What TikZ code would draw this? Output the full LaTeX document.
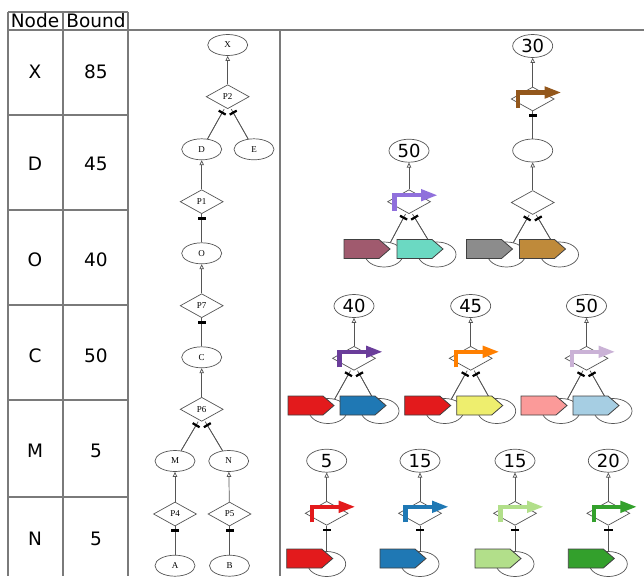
\documentclass[tikz,border=0pt]{standalone}
\usepackage{fontspec}
\setmainfont{DejaVu Sans}
\newfontfamily\treefont{Liberation Serif}
\usetikzlibrary{arrows.meta,shapes.geometric}
\definecolor{cmauve}{HTML}{A05A6E}
\definecolor{cteal}{HTML}{6BD9C2}
\definecolor{cgray}{HTML}{8C8C8C}
\definecolor{cgold}{HTML}{BF8A3A}
\definecolor{cbrown}{HTML}{93571C}
\definecolor{cmpurple}{HTML}{9070DC}
\definecolor{cdpurple}{HTML}{6A3D9A}
\definecolor{corange}{HTML}{FF7F00}
\definecolor{clilac}{HTML}{CAB2D6}
\definecolor{cred}{HTML}{E31A1C}
\definecolor{cblue}{HTML}{1F78B4}
\definecolor{cyellow}{HTML}{EEEE6E}
\definecolor{cpink}{HTML}{FB9A99}
\definecolor{clblue}{HTML}{A6CEE3}
\definecolor{clgreen}{HTML}{B2DF8A}
\definecolor{cgreen}{HTML}{33A02C}
\definecolor{edgec}{HTML}{555555}
\definecolor{tblc}{HTML}{7A7A7A}
\newcommand\prom[2]{\draw[promoter,draw=#2] ([shift={(-14.5,9)}]#1.center) -- ([shift={(-14.5,-6.5)}]#1.center) -- ([shift={(29,-6.5)}]#1.center);}
\newcommand\cds[2]{\draw[cdsline,fill=#2] ([shift={(-40,-15)}]#1.center) -- ++(35,0) -- ++(11,9.5) -- ++(-11,9.5) -- ++(-35,0) -- cycle;}
\begin{document}
\begin{tikzpicture}[x=1pt,y=-1pt,
  tbl/.style={draw=tblc, line width=1.2pt},
  ttxt/.style={font=\fontsize{18.5}{20}\selectfont, inner sep=0pt},
  tel/.style={ellipse, draw=edgec, line width=0.7pt, minimum width=40pt, minimum height=21pt, inner sep=0pt, fill=white, font=\treefont\fontsize{9}{9}\selectfont},
  tdi/.style={diamond, draw=edgec, line width=0.7pt, minimum width=43pt, minimum height=24pt, inner sep=0pt, fill=white, font=\treefont\fontsize{9}{9}\selectfont},
  numel/.style={ellipse, draw=edgec, line width=0.7pt, minimum width=40pt, minimum height=23pt, inner sep=0pt, fill=white, font=\fontsize{18}{18}\selectfont},
  gdi/.style={diamond, draw=edgec, line width=0.7pt, minimum width=43pt, minimum height=24pt, inner sep=0pt, fill=white},
  chel/.style={ellipse, draw=edgec, line width=0.7pt, minimum width=38pt, minimum height=25pt, inner sep=0pt},
  up/.style={draw=edgec, line width=0.7pt, -{Triangle[open,length=5pt,width=4.5pt]}},
  tee/.style={draw=edgec, line width=0.7pt, postaction={draw=edgec, -{Rectangle[length=2.2pt,width=8pt,color=black]}, shorten >=3pt}},
  promoter/.style={line width=4.5pt, -{Triangle[length=17pt,width=11pt]}},
  cdsline/.style={draw=black!75, line width=0.8pt, line join=miter}]
\useasboundingbox (0,0) rectangle (644,576);
% table
\foreach \yy in {12,115,210,305,400,497} \draw[tbl] (8,\yy) -- (128,\yy);
\draw[tbl] (8,30) -- (644,30);
\foreach \xx in {8,63,128} \draw[tbl] (\xx,12) -- (\xx,576);
\draw[tbl] (280,30) -- (280,576);
\node[ttxt] (hN) at (35,21) {Node};
\node[ttxt] (hB) at (96,21) {Bound};
\node[ttxt] (rX) at (35,72) {X};   \node[ttxt] (vX) at (96,72) {85};
\node[ttxt] (rD) at (35,164) {D};  \node[ttxt] (vD) at (96,164) {45};
\node[ttxt] (rO) at (35,260) {O};  \node[ttxt] (vO) at (96,260) {40};
\node[ttxt] (rC) at (35,356) {C};  \node[ttxt] (vC) at (96,356) {50};
\node[ttxt] (rM) at (35,451) {M};  \node[ttxt] (vM) at (96,451) {5};
\node[ttxt] (rN) at (35,539) {N};  \node[ttxt] (vN) at (96,539) {5};
% tree
\node[tel] (X) at (227.7,45) {X};
\node[tdi] (P2) at (227.7,96.7) {P2};
\node[tel] (D) at (201.7,149.3) {D};
\node[tel] (E) at (254,149.3) {E};
\node[tdi] (P1) at (201.7,201.7) {P1};
\node[tel] (O) at (201.7,253.3) {O};
\node[tdi] (P7) at (201.7,305.7) {P7};
\node[tel] (C) at (201.7,357.3) {C};
\node[tdi] (P6) at (201.7,409.3) {P6};
\node[tel] (M) at (175,461) {M};
\node[tel] (N) at (228.7,461) {N};
\node[tdi] (P4) at (175,514) {P4};
\node[tdi] (P5) at (229.5,514) {P5};
\node[tel] (A) at (175,565.7) {A};
\node[tel] (B) at (229.5,565.7) {B};
\draw[up] (P2) -- (X);
\draw[tee] (D) -- ([xshift=-3.5pt]P2.south);
\draw[tee] (E) -- ([xshift=3.5pt]P2.south);
\draw[up] (P1) -- (D);
\draw[tee] (O) -- (P1);
\draw[up] (P7) -- (O);
\draw[tee] (C) -- (P7);
\draw[up] (P6) -- (C);
\draw[tee] (M) -- ([xshift=-3.5pt]P6.south);
\draw[tee] (N) -- ([xshift=3.5pt]P6.south);
\draw[up] (P4) -- (M);
\draw[up] (P5) -- (N);
\draw[tee] (A) -- (P4);
\draw[tee] (B) -- (P5);
% group 30
\node[numel] (n30) at (532.7,46) {30};
\node[gdi] (g30) at (532.7,99) {};
\node[numel] (m30) at (532.7,150.5) {};
\node[gdi] (h30) at (532.7,202.5) {};
\node[chel] (c30a) at (506.5,254.5) {};
\node[chel] (c30b) at (559.5,254.5) {};
\draw[up] (g30) -- (n30);
\draw[tee] (m30) -- (g30);
\draw[up] (h30) -- (m30);
\draw[tee] (c30a) -- ([xshift=-3.5pt]h30.south);
\draw[tee] (c30b) -- ([xshift=3.5pt]h30.south);
\cds{c30a}{cgray} \cds{c30b}{cgold}
\prom{g30}{cbrown}
% group 50 (top)
\node[numel] (n50a) at (409,150.7) {50};
\node[gdi] (g50a) at (409,201.7) {};
\node[chel] (c50aa) at (384,254.5) {};
\node[chel] (c50ab) at (437,254.5) {};
\draw[up] (g50a) -- (n50a);
\draw[tee] (c50aa) -- ([xshift=-3.5pt]g50a.south);
\draw[tee] (c50ab) -- ([xshift=3.5pt]g50a.south);
\cds{c50aa}{cmauve} \cds{c50ab}{cteal}
\prom{g50a}{cmpurple}
% group 40
\node[numel] (n40) at (354,306) {40};
\node[gdi] (g40) at (354,358.3) {};
\node[chel] (c40a) at (328,411) {};
\node[chel] (c40b) at (380,411) {};
\draw[up] (g40) -- (n40);
\draw[tee] (c40a) -- ([xshift=-3.5pt]g40.south);
\draw[tee] (c40b) -- ([xshift=3.5pt]g40.south);
\cds{c40a}{cred} \cds{c40b}{cblue}
\prom{g40}{cdpurple}
% group 45
\node[numel] (n45) at (470.7,306) {45};
\node[gdi] (g45) at (470.7,358.3) {};
\node[chel] (c45a) at (444.7,411) {};
\node[chel] (c45b) at (496.7,411) {};
\draw[up] (g45) -- (n45);
\draw[tee] (c45a) -- ([xshift=-3.5pt]g45.south);
\draw[tee] (c45b) -- ([xshift=3.5pt]g45.south);
\cds{c45a}{cred} \cds{c45b}{cyellow}
\prom{g45}{corange}
% group 50 (row 2)
\node[numel] (n50b) at (586.5,306) {50};
\node[gdi] (g50b) at (586.5,358.3) {};
\node[chel] (c50ba) at (561,411) {};
\node[chel] (c50bb) at (613,411) {};
\draw[up] (g50b) -- (n50b);
\draw[tee] (c50ba) -- ([xshift=-3.5pt]g50b.south);
\draw[tee] (c50bb) -- ([xshift=3.5pt]g50b.south);
\cds{c50ba}{cpink} \cds{c50bb}{clblue}
\prom{g50b}{clilac}
% row 3
\node[numel] (n5) at (326.7,460.7) {5};
\node[gdi] (g5) at (326.7,513.3) {};
\node[chel] (c5) at (326.7,564) {};
\draw[up] (g5) -- (n5);
\draw[tee] (c5) -- (g5);
\cds{c5}{cred}
\prom{g5}{cred}
\node[numel] (n15a) at (420,460.7) {15};
\node[gdi] (g15a) at (420,513.3) {};
\node[chel] (c15a) at (420,564) {};
\draw[up] (g15a) -- (n15a);
\draw[tee] (c15a) -- (g15a);
\cds{c15a}{cblue}
\prom{g15a}{cblue}
\node[numel] (n15b) at (515,460.7) {15};
\node[gdi] (g15b) at (515,513.3) {};
\node[chel] (c15b) at (515,564) {};
\draw[up] (g15b) -- (n15b);
\draw[tee] (c15b) -- (g15b);
\cds{c15b}{clgreen}
\prom{g15b}{clgreen}
\node[numel] (n20) at (608.3,460.7) {20};
\node[gdi] (g20) at (608.3,513.3) {};
\node[chel] (c20) at (608.3,564) {};
\draw[up] (g20) -- (n20);
\draw[tee] (c20) -- (g20);
\cds{c20}{cgreen}
\prom{g20}{cgreen}
\end{tikzpicture}
\end{document}
